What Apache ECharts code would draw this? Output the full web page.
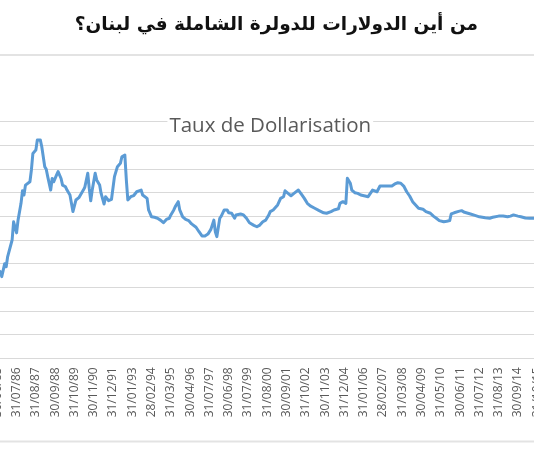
<!DOCTYPE html>
<html>
<head>
<meta charset="utf-8">
<script src="https://cdn.jsdelivr.net/npm/echarts@6/dist/echarts.min.js"></script>
<style>
html,body{margin:0;padding:0;background:#fff;}
#chart{width:534px;height:462px;}
</style>
</head>
<body>
<div id="chart"></div>
<script>
// Month index counted from 30/06/1985 (monthly end-of-month observations)
const months = [0,2,3,4,5,6,7,10,11,13,14,16,17,18,19,22,23,24,26,27,29,30,32,33,34,36,37,38,40,41,43,44,46,47,49,51,53,55,56,58,59,61,62,63,64,66,67,69,70,72,73,75,77,79,81,83,84,86,87,88,90,92,94,97,98,101,102,104,106,108,110,112,114,116,117,119,120,122,123,125,127,129,131,134,136,138,140,142,144,146,147,148,150,151,153,155,156,158,160,161,164,166,168,170,173,175,177,179,181,182,183,184,186,187,189,191,193,194,196,198,200,203,205,207,209,211,214,217,220,222,225,227,230,231,233,235,236,238,239,241,243,245,248,250,251,253,254,256,258,260,263,266,268,270,272,274,276,278,280,282,284,287,289,292,294,296,298,301,303,305,306,308,311,313,315,319,322,325,329,332,334,338,341,344,346,348,351,353,356,359,362,365];
// Dollarisation rate (%)
const rate = [37.5,36.6,34.5,34.8,40,38.7,43,50,57.7,53,58.4,65.5,70.8,69,73.2,74.6,79.6,86.6,88,92.3,92.3,89.4,81,79.9,76.8,71.1,76,74.6,77.5,78.9,76,73.2,72.5,71.1,69,62,66.9,67.9,68.3,71.1,72.3,78.2,71.8,66.6,71.1,78.2,75.4,73.2,69.7,65.2,68.3,66.6,67.2,76.8,81,82.4,85.2,85.9,75.4,66.9,68.3,68.8,70.4,71.1,69,67.6,62.7,59.8,59.6,59.2,58.4,57.3,58.7,59.2,60.6,62.7,64.1,66.2,62.7,59.8,58.7,58.2,56.8,55.4,53.5,51.7,51.7,52.5,54.5,58.4,53.5,51.4,59.2,60.1,62.7,62.7,61.5,61.3,59.2,60.6,61,60.6,59.2,57.3,56.2,55.6,56.3,57.7,58.4,59.5,60.5,62,62.7,62.4,64.8,67.6,68.3,70.8,69.7,68.7,69.7,71.1,69.4,67.6,65.5,64.4,63.4,62.4,61.5,61.3,62,62.7,63.2,65.5,66.2,65.5,76.1,74,71.1,70,69.7,69,68.6,68.3,68.6,71.1,71.1,70.4,72.8,72.8,72.8,72.8,73.7,74.2,74,72.8,70.4,68.6,66.2,64.8,63.4,63,62,61.3,60.1,59.2,58.2,57.7,57.9,58.2,61,61.5,62.1,62.4,61.7,61,60.4,59.8,59.4,59.2,59.6,60.1,60.1,59.8,60.1,60.6,60.1,59.8,59.3,59.2,59.2,59.0];
// Axis tick labels, one every 13 observations
const tickLabels = ["30/06/85","31/07/86","31/08/87","30/09/88","31/10/89","30/11/90","31/12/91","31/01/93","28/02/94","31/03/95","30/04/96","31/07/97","30/06/98","31/07/99","31/08/00","30/09/01","31/10/02","30/11/03","31/12/04","31/01/06","28/02/07","31/03/08","30/04/09","31/05/10","30/06/11","31/07/12","31/08/13","30/09/14","31/10/15"];
const mainTitle = "من أين الدولارات للدولرة الشاملة في لبنان؟";
const chartTitle = "Taux de Dollarisation";

const seriesData = months.map((m, i) => [m, rate[i]]);

const chart = echarts.init(document.getElementById('chart'), null, {renderer: 'canvas'});
chart.setOption({
  backgroundColor: '#ffffff',
  animation: false,
  grid: {left: -22, right: -22.5, top: 121.7, bottom: 103.7, containLabel: false, outerBoundsMode: 'none'},
  xAxis: {
    type: 'value',
    min: -13, max: 377, interval: 13,
    splitLine: {show: false},
    axisTick: {show: false},
    axisLine: {show: true, lineStyle: {color: '#d9d9d9', width: 1}},
    axisLabel: {
      rotate: 90, margin: 9, color: '#595959',
      fontFamily: 'Open Sans', fontSize: 12,
      showMinLabel: true, showMaxLabel: true, hideOverlap: false,
      formatter: function (v) { const i = Math.round(v / 13); return tickLabels[i] || ''; }
    }
  },
  yAxis: {
    type: 'value', min: 0, max: 100, interval: 10,
    axisLabel: {show: false}, axisTick: {show: false}, axisLine: {show: false},
    splitLine: {lineStyle: {color: '#d9d9d9', width: 1}}
  },
  series: [{
    type: 'line', data: seriesData, showSymbol: false, symbol: 'none',
    lineStyle: {color: '#5B9BD5', width: 3, cap: 'round', join: 'round'},
    z: 3
  }],
  graphic: [
    {type: 'rect', shape: {x: 0, y: 54, width: 534, height: 2}, style: {fill: '#e3e3e3'}, silent: true},
    {type: 'rect', shape: {x: 0, y: 440.5, width: 534, height: 2}, style: {fill: '#e3e3e3'}, silent: true},
    {type: 'text', x: 478, y: 25, z: 10,
      style: {text: mainTitle, font: 'bold 18.5px "DejaVu Sans"', fill: '#111111', align: 'right', textAlign: 'right', verticalAlign: 'middle', textVerticalAlign: 'middle'}},
    {type: 'text', x: 270.3, y: 126.3, z: 10,
      style: {text: chartTitle, font: '20.5px "Open Sans"', fill: '#595959', align: 'center', textAlign: 'center', verticalAlign: 'middle', textVerticalAlign: 'middle', backgroundColor: '#ffffff', padding: [3, 2, 3, 2]}}
  ]
});
</script>
</body>
</html>
